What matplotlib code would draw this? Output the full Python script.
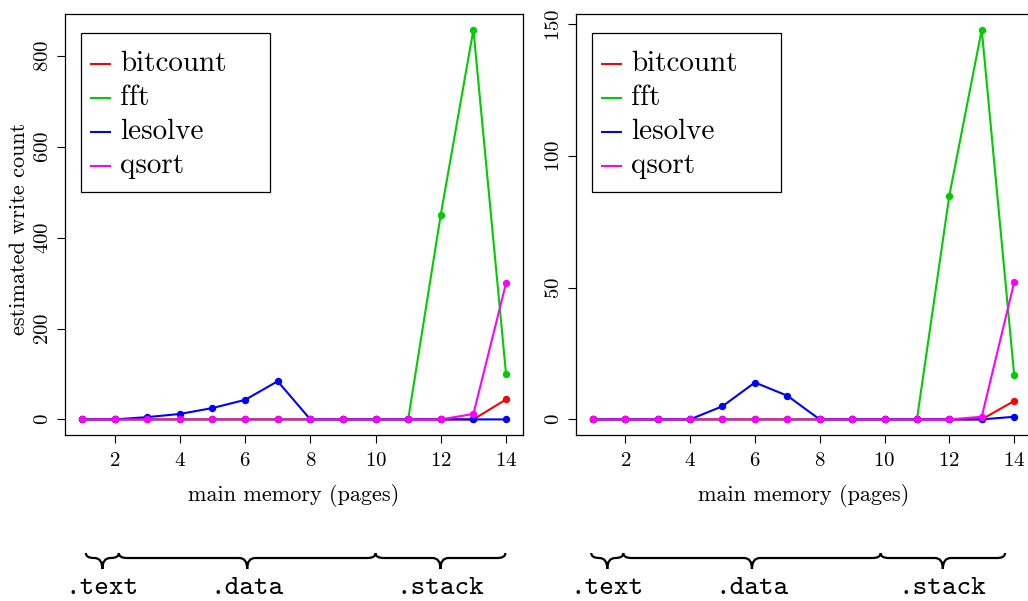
import numpy as np
import matplotlib
matplotlib.use("Agg")
import matplotlib.pyplot as plt
from matplotlib.path import Path
from matplotlib.patches import PathPatch, Rectangle

plt.rcParams['font.family'] = 'serif'
plt.rcParams['font.serif'] = ['cmr10', 'DejaVu Serif']
plt.rcParams['axes.formatter.use_mathtext'] = True

# data
pages = list(range(1, 15))
names = ['bitcount', 'fft', 'lesolve', 'qsort']
colors = ['#FF0000', '#00CD00', '#0000FF', '#FF00FF']

# left panel
left_bitcount = [0, 0, 0, 0, 0, 0, 0, 0, 0, 0, 0, 0, 0, 44]
left_fft = [0, 0, 0, 0, 0, 0, 0, 0, 0, 0, 0, 451, 858, 100]
left_lesolve = [0, 0, 5, 12, 25, 43, 84, 0, 0, 0, 0, 0, 0, 0]
left_qsort = [0, 0, 0, 0, 0, 0, 0, 0, 0, 0, 0, 0, 12, 300]

# right panel
right_bitcount = [0, 0, 0, 0, 0, 0, 0, 0, 0, 0, 0, 0, 0, 7]
right_fft = [0, 0, 0, 0, 0, 0, 0, 0, 0, 0, 0, 85, 148, 17]
right_lesolve = [0, 0, 0, 0, 5, 14, 9, 0, 0, 0, 0, 0, 0, 1]
right_qsort = [0, 0, 0, 0, 0, 0, 0, 0, 0, 0, 0, 0, 1, 52]

left_yticks = [0, 200, 400, 600, 800]
right_yticks = [0, 50, 100, 150]
xticks = [2, 4, 6, 8, 10, 12, 14]

# memory regions under each panel (page boundaries as drawn)
left_edges = [1.12, 2.13, 10.0, 13.98]
right_edges = [0.95, 1.94, 9.88, 13.72]
seg_labels = ['.text', '.data', '.stack']

fig = plt.figure(figsize=(10.28, 6.01), dpi=100)
ax1 = fig.add_axes([65/1028, 1 - 435/601, 458/1028, 421/601])
ax2 = fig.add_axes([576/1028, 1 - 435/601, 455/1028, 421/601])


def rlim(vals):
    lo, hi = min(vals), max(vals)
    pad = (hi - lo) * 0.04
    return lo - pad, hi + pad


def draw_legend(ax):
    # R style legend box, offsets in pixels from the axes top-left corner
    w, h = ax.bbox.width, ax.bbox.height
    fx = lambda px: px / w
    fy = lambda py: 1 - py / h
    ax.add_patch(Rectangle((fx(16), fy(178)), fx(189), 178 / h - 19 / h,
                           transform=ax.transAxes, fill=True, fc='white',
                           ec='black', lw=0.9, zorder=5))
    for i, (name, c) in enumerate(zip(names, colors)):
        y = fy(50 + i * 34)
        ax.plot([fx(25), fx(46)], [y, y], color=c, lw=1.5,
                transform=ax.transAxes, zorder=6, solid_capstyle='butt')
        ax.text(fx(55), y, name, fontsize=21, va='center', ha='left',
                transform=ax.transAxes, zorder=6)


def draw_panel(ax, series, yticks):
    for vals, name, c in zip(series, names, colors):
        ax.plot(pages, vals, color=c, lw=1.5, label=name,
                marker='o', markersize=4.4, markeredgewidth=0.9)
    ax.set_xlim(*rlim(pages))
    allv = [v for s in series for v in s]
    ax.set_ylim(*rlim(allv))
    ax.set_xticks(xticks)
    ax.set_yticks(yticks)
    ax.tick_params(direction='out', length=6, width=0.8, labelsize=15,
                   pad=6, colors='black')
    ax.tick_params(axis='y', pad=3.5)
    for lab in ax.get_yticklabels():
        lab.set_rotation(90)
        lab.set_va('center')
    for sp in ax.spines.values():
        sp.set_linewidth(0.9)
    ax.set_xlabel('main memory (pages)', fontsize=16, labelpad=10)
    draw_legend(ax)


draw_panel(ax1, [left_bitcount, left_fft, left_lesolve, left_qsort], left_yticks)
draw_panel(ax2, [right_bitcount, right_fft, right_lesolve, right_qsort], right_yticks)
fig.text(19/1028, 1 - 229/601, 'estimated write count', fontsize=16,
         rotation=90, ha='center', va='center')


def brace(ax, xa, xb):
    # curly brace in figure pixel coords between data x positions
    inv = fig.transFigure.inverted()
    pa = ax.transData.transform((xa, 0))[0]
    pb = ax.transData.transform((xb, 0))[0]
    pm = (pa + pb) / 2
    H = 601
    ytop, ymid, ytip = H - 553, H - 558, H - 569
    r = min(8, (pb - pa) / 4)
    verts = [
        (pa, ytop), (pa, ymid), (pa + r, ymid),
        (pm - r, ymid), (pm, ymid), (pm, ytip),
        (pm, ymid), (pm + r, ymid),
        (pb - r, ymid), (pb, ymid), (pb, ytop),
    ]
    codes = [Path.MOVETO, Path.CURVE3, Path.CURVE3,
             Path.LINETO, Path.CURVE3, Path.CURVE3,
             Path.CURVE3, Path.CURVE3,
             Path.LINETO, Path.CURVE3, Path.CURVE3]
    verts = [tuple(inv.transform((x, y))) for x, y in verts]
    fig.patches.append(PathPatch(Path(verts, codes), transform=fig.transFigure,
                                 fill=False, lw=1.6, color='black'))
    return inv.transform((pm, 0))[0]


for ax, edges in [(ax1, left_edges), (ax2, right_edges)]:
    for i, lab in enumerate(seg_labels):
        xf = brace(ax, edges[i], edges[i + 1])
        fig.text(xf, 1 - 588/601, lab, family='cmtt10', fontsize=20,
                 ha='center', va='center')

fig.savefig('out.png', dpi=100)
